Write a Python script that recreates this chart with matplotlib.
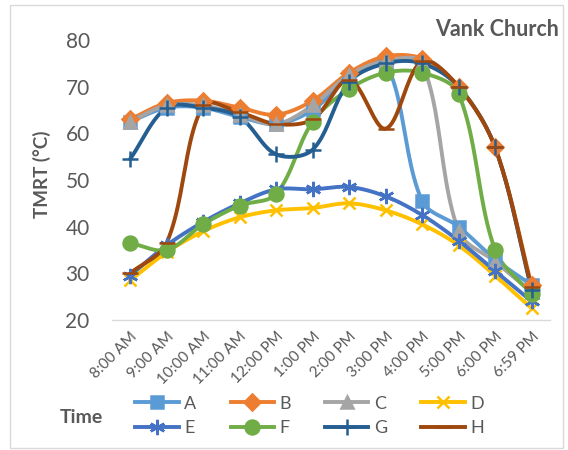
import numpy as np
import matplotlib.pyplot as plt
from matplotlib.lines import Line2D
from matplotlib.patches import Rectangle

plt.rcParams['font.family'] = ['Lato', 'DejaVu Sans']

times = ['8:00 AM', '9:00 AM', '10:00 AM', '11:00 AM', '12:00 PM', '1:00 PM',
         '2:00 PM', '3:00 PM', '4:00 PM', '5:00 PM', '6:00 PM', '6:59 PM']

A = [62.5, 65.5, 65.5, 63.5, 62, 65, 72, 75, 45.5, 40, 33, 27.5]
B = [63, 66.5, 67, 65.5, 64, 67, 73, 76.5, 76, 70, 57, 27.5]
C = [62.5, 66, 66, 64, 62, 66, 72.5, 75.5, 75, 39, 32.5, 26]
D = [28.5, 34.5, 39, 42, 43.5, 44, 45, 43.5, 40.5, 36, 29.5, 22.5]
E = [29.5, 36, 41, 45, 48, 48, 48.5, 46.5, 42.5, 37, 30.5, 24]
F = [36.5, 35, 40.5, 44.5, 47, 62.5, 69.5, 73, 73, 68.5, 35, 25.5]
G = [54.5, 65.5, 65.5, 63.5, 55.5, 56.5, 71, 75, 75, 70, 57, 26.5]
H = [30, 36.5, 66, 64.5, 62, 63, 71.5, 61, 75.5, 70, 57, 27]

series = [
    ('A', A, '#5B9BD5', 's', 9),
    ('B', B, '#ED7D31', 'D', 8),
    ('C', C, '#A5A5A5', '^', 9),
    ('D', D, '#FFC000', 'x', 9),
    ('E', E, '#4472C4', (6, 2, 0), 11),
    ('F', F, '#70AD47', 'o', 10),
    ('G', G, '#255E91', '+', 11),
    ('H', H, '#9E480E', '_', 11),
]

YS = 4.67 / 36.6  # y unit vs x unit on screen


def smooth(y, n=24):
    # excel-like smoothed line: bezier, arms scaled by screen segment length
    y = np.asarray(y, float)
    x = np.arange(len(y), dtype=float)
    P = np.column_stack([x, y * YS])
    m = len(P)
    tang = np.zeros_like(P)
    for i in range(m):
        a = P[max(i - 1, 0)]
        b = P[min(i + 1, m - 1)]
        tang[i] = b - a
    xs, ys = [], []
    t = np.linspace(0, 1, n)[:, None]
    for i in range(m - 1):
        p0, p3 = P[i], P[i + 1]
        seg = np.linalg.norm(p3 - p0)
        l0 = np.linalg.norm(P[i] - P[max(i - 1, 0)]) + seg
        l1 = seg + np.linalg.norm(P[min(i + 2, m - 1)] - P[i + 1])
        p1 = p0 + tang[i] * seg / l0 / 3
        p2 = p3 - tang[i + 1] * seg / l1 / 3
        b = (1-t)**3*p0 + 3*(1-t)**2*t*p1 + 3*(1-t)*t**2*p2 + t**3*p3
        xs.extend(b[:, 0])
        ys.extend(b[:, 1] / YS)
    return xs, ys


fig = plt.figure(figsize=(5.68, 4.5), dpi=100)
ax = fig.add_axes([0.197, 0.289, 0.771, 0.622])

x = np.arange(len(times))
handles = {}
for name, vals, col, mk, ms in series:
    sx, sy = smooth(vals)
    ax.plot(sx, sy, color=col, lw=2.8, solid_capstyle='round', zorder=2)
    ax.plot(x, vals, ls='none', marker=mk, ms=ms, color=col, mfc=col, mec=col,
            mew=1.8, zorder=3)
    handles[name] = Line2D([], [], color=col, lw=2.8, marker=mk, ms=ms, mfc=col,
                           mec=col, mew=1.8, label=name)

ax.set_xlim(-0.5, len(times) - 0.5)
ax.set_ylim(20, 80)
ax.set_yticks([20, 30, 40, 50, 60, 70, 80])
ax.set_xticks(x)
ax.set_xticklabels(times, rotation=45, ha='right', rotation_mode='anchor',
                   fontsize=11, color='#595959')
ax.tick_params(axis='y', labelsize=15, colors='#595959', length=0, pad=16)
ax.tick_params(axis='x', length=0, pad=7)
for s in ['top', 'right', 'left']:
    ax.spines[s].set_visible(False)
ax.spines['bottom'].set_color('#D9D9D9')
ax.spines['bottom'].set_linewidth(1)

ax.set_ylabel('TMRT (°C)', fontsize=13.5, fontweight='bold', color='#595959')
ax.yaxis.set_label_coords(-0.14, 0.52)
fig.text(0.985, 0.935, 'Vank Church', ha='right', va='center', fontsize=15.5,
         fontweight='bold', color='#595959')
fig.text(0.105, 0.072, 'Time', ha='left', va='center', fontsize=14,
         fontweight='bold', color='#595959')

order = ['A', 'E', 'B', 'F', 'C', 'G', 'D', 'H']
fig.legend(handles=[handles[k] for k in order], ncol=4, loc='center',
           bbox_to_anchor=(0.545, 0.076), frameon=False, fontsize=13,
           handlelength=2.4, columnspacing=1.9, handletextpad=0.3,
           labelspacing=0.45, labelcolor='#595959')

fig.patches.append(Rectangle((0.018, 0.005), 0.973, 0.985, transform=fig.transFigure,
                             fill=False, edgecolor='#D9D9D9', lw=1))

fig.savefig('out.png', dpi=100)
